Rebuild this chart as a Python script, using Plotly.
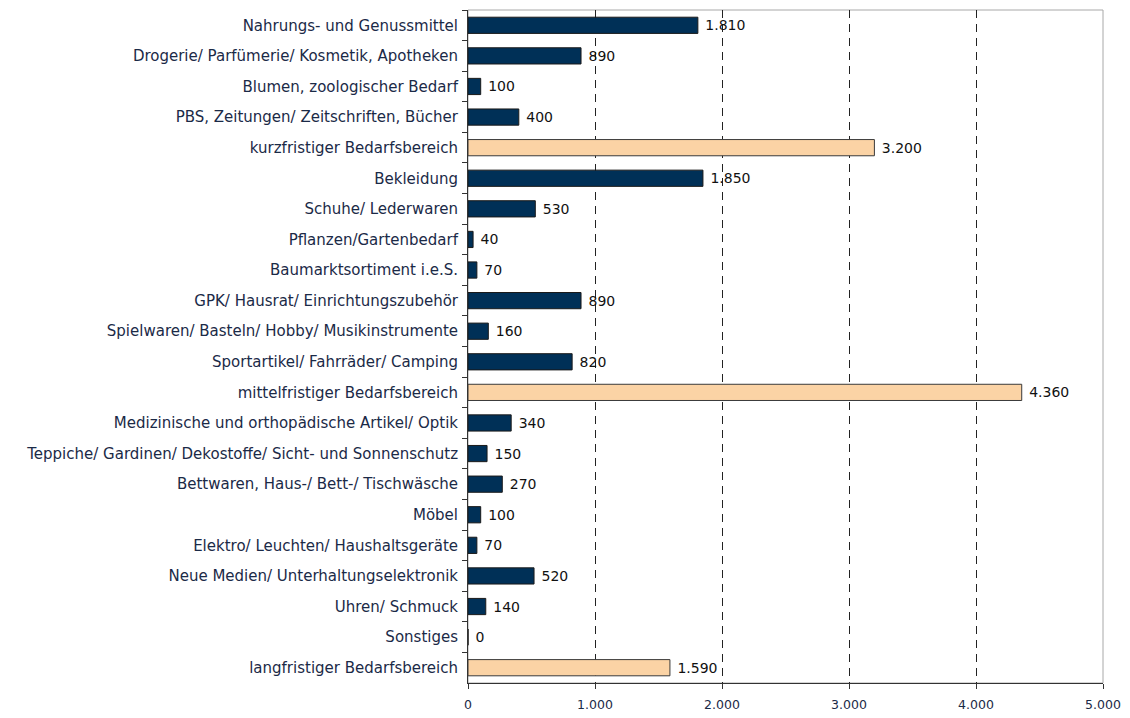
import plotly.graph_objects as go

categories = [
    "Nahrungs- und Genussmittel",
    "Drogerie/ Parfümerie/ Kosmetik, Apotheken",
    "Blumen, zoologischer Bedarf",
    "PBS, Zeitungen/ Zeitschriften, Bücher",
    "kurzfristiger Bedarfsbereich",
    "Bekleidung",
    "Schuhe/ Lederwaren",
    "Pflanzen/Gartenbedarf",
    "Baumarktsortiment i.e.S.",
    "GPK/ Hausrat/ Einrichtungszubehör",
    "Spielwaren/ Basteln/ Hobby/ Musikinstrumente",
    "Sportartikel/ Fahrräder/ Camping",
    "mittelfristiger Bedarfsbereich",
    "Medizinische und orthopädische Artikel/ Optik",
    "Teppiche/ Gardinen/ Dekostoffe/ Sicht- und Sonnenschutz",
    "Bettwaren, Haus-/ Bett-/ Tischwäsche",
    "Möbel",
    "Elektro/ Leuchten/ Haushaltsgeräte",
    "Neue Medien/ Unterhaltungselektronik",
    "Uhren/ Schmuck",
    "Sonstiges",
    "langfristiger Bedarfsbereich",
]
values = [1810, 890, 100, 400, 3200, 1850, 530, 40, 70, 890, 160, 820, 4360,
          340, 150, 270, 100, 70, 520, 140, 0, 1590]
is_total = [c.endswith("Bedarfsbereich") for c in categories]

tick_vals = [0, 1000, 2000, 3000, 4000, 5000]
tick_text = ["0", "1.000", "2.000", "3.000", "4.000", "5.000"]

NAVY = "#003057"
BEIGE = "#FBD3A5"
TEXT = "#1B2A47"
FONT = "DejaVu Sans"

fill = [BEIGE if t else NAVY for t in is_total]
outline = ["#3a3a3a" if t else "#1a1a1a" for t in is_total]

fig = go.Figure(go.Bar(
    x=values,
    y=categories,
    orientation="h",
    marker=dict(color=fill, line=dict(color=outline, width=1)),
    width=0.53,
    text=values,
    texttemplate=" %{x:,}",
    textposition="outside",
    textfont=dict(color="#111111", size=14, family=FONT),
    cliponaxis=False,
    hoverinfo="skip",
))

fig.update_layout(
    width=1122, height=710,
    margin=dict(l=460, r=27, t=2, b=35, autoexpand=False),
    paper_bgcolor="white",
    plot_bgcolor="white",
    separators=",.",
    showlegend=False,
    font=dict(family=FONT, size=15, color=TEXT),
    shapes=[dict(type="rect", xref="paper", yref="paper", x0=0, x1=1, y0=0, y1=1,
                 line=dict(color="#a8a8a8", width=1), layer="below")],
)

fig.update_xaxes(
    range=[0, 5000],
    tickvals=tick_vals,
    ticktext=tick_text,
    showgrid=True,
    gridcolor="#222222",
    gridwidth=1,
    griddash="8px,6px",
    zeroline=False,
    showline=True,
    linecolor="#333333",
    linewidth=1,
    ticks="outside",
    ticklen=5,
    tickcolor="#333333",
    ticklabelstandoff=5,
    tickfont=dict(size=12.5, color=TEXT, family=FONT),
)
fig.update_yaxes(
    autorange="reversed",
    showgrid=False,
    showline=True,
    linecolor="#333333",
    linewidth=1,
    ticks="outside",
    tickson="boundaries",
    ticklen=5,
    tickcolor="#333333",
    ticklabelstandoff=6,
    tickfont=dict(size=15, color=TEXT, family=FONT),
)

fig.write_html("out.html")
